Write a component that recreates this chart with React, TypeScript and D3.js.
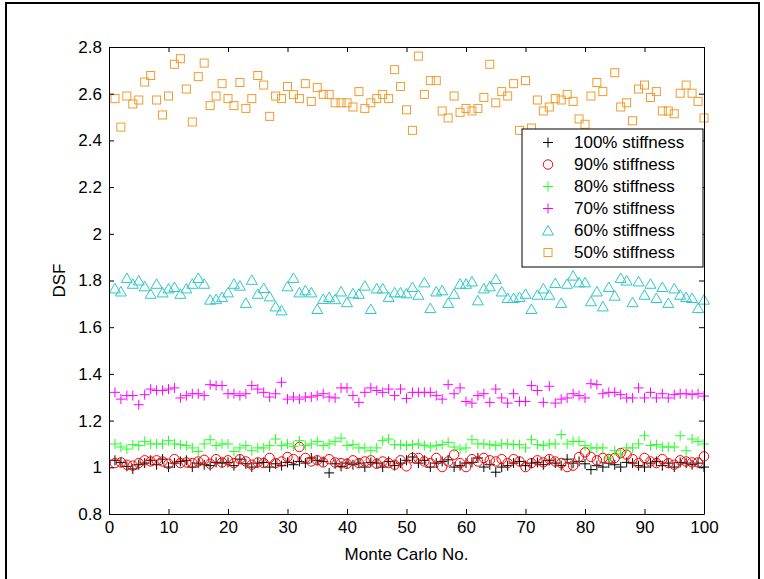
import { useEffect, useRef } from "react";
import * as d3 from "d3";

// DSF values per Monte Carlo run (runs 1..100)
const stiff100 = [
  1.03, 1.021, 1.004, 0.993, 1.011, 1.018, 1.03, 1.011, 1.035, 1.001,
  1.018, 1.025, 1.03, 1.001, 1.018, 1.011, 1.007, 1.021, 1.018, 1.021,
  1.007, 1.035, 1.015, 1.001, 1.018, 1.021, 1.001, 1.015, 1.007, 1.021,
  1.011, 1.025, 1.018, 1.04, 1.03, 1.025, 0.976, 1.015, 1.004, 1.018,
  1.011, 1.018, 1.001, 1.021, 1.018, 1.001, 1.025, 1.007, 1.018, 1.03,
  1.044, 1.018, 1.03, 1.001, 1.018, 1.025, 1.032, 1.001, 1.007, 1.018,
  1.021, 1.04, 1.001, 1.011, 0.979, 1.001, 1.007, 1.018, 1.025, 1.007,
  1.018, 1.021, 1.011, 1.03, 1.018, 1.007, 1.035, 1.018, 1.025, 1.015,
  0.99, 1.007, 1.001, 1.018, 1.011, 1.001, 1.021, 1.018, 1.007, 1.001,
  1.018, 1.025, 1.007, 1.018, 1.001, 1.021, 1.018, 1.011, 1.018, 1.001,
];
const stiff90 = [
  1.018, 1.021, 1.011, 1.007, 1.018, 1.03, 1.025, 1.03, 1.025, 1.015,
  1.035, 1.018, 1.021, 1.018, 1.025, 1.032, 1.015, 1.035, 1.021, 1.03,
  1.018, 1.035, 1.025, 1.011, 1.021, 1.018, 1.04, 1.018, 1.025, 1.044,
  1.035, 1.087, 1.04, 1.025, 1.03, 1.021, 1.035, 1.021, 1.018, 1.015,
  1.03, 1.018, 1.025, 1.03, 1.015, 1.025, 1.018, 1.011, 1.03, 1.004,
  1.04, 1.04, 1.025, 1.018, 1.04, 1.001, 1.025, 1.054, 1.018, 1.001,
  1.035, 1.025, 1.04, 1.03, 1.025, 1.035, 1.018, 1.035, 1.025, 1.001,
  1.018, 1.03, 1.021, 1.035, 1.025, 1.018, 1.001, 1.007, 1.044, 1.064,
  1.044, 1.03, 1.04, 1.035, 1.04, 1.061, 1.054, 1.035, 1.018, 1.04,
  1.025, 1.018, 1.035, 1.018, 1.011, 1.03, 1.025, 1.021, 1.021, 1.047,
];
const stiff80 = [
  1.1, 1.087, 1.078, 1.097, 1.093, 1.111, 1.1, 1.1, 1.1, 1.114,
  1.1, 1.097, 1.093, 1.083, 1.068, 1.1, 1.118, 1.093, 1.1, 1.1,
  1.068, 1.083, 1.093, 1.071, 1.083, 1.083, 1.093, 1.121, 1.093, 1.1,
  1.09, 1.114, 1.093, 1.1, 1.111, 1.093, 1.1, 1.111, 1.125, 1.093,
  1.097, 1.083, 1.083, 1.071, 1.083, 1.114, 1.121, 1.097, 1.097, 1.093,
  1.097, 1.1, 1.093, 1.087, 1.093, 1.097, 1.107, 1.087, 1.078, 1.083,
  1.118, 1.1, 1.1, 1.097, 1.093, 1.1, 1.1, 1.097, 1.097, 1.083,
  1.118, 1.097, 1.093, 1.1, 1.1, 1.14, 1.1, 1.111, 1.111, 1.093,
  1.083, 1.083, 1.083, 1.04, 1.071, 1.057, 1.083, 1.083, 1.1, 1.135,
  1.093, 1.097, 1.087, 1.087, 1.087, 1.135, 1.071, 1.121, 1.111, 1.1,
];
const stiff70 = [
  1.321, 1.292, 1.307, 1.307, 1.268, 1.311, 1.335, 1.329, 1.329, 1.335,
  1.34, 1.297, 1.307, 1.315, 1.315, 1.307, 1.354, 1.35, 1.35, 1.315,
  1.315, 1.307, 1.315, 1.35, 1.335, 1.321, 1.301, 1.315, 1.364, 1.292,
  1.301, 1.292, 1.301, 1.301, 1.307, 1.315, 1.301, 1.297, 1.34, 1.34,
  1.307, 1.278, 1.321, 1.34, 1.329, 1.321, 1.335, 1.307, 1.335, 1.295,
  1.321, 1.321, 1.321, 1.321, 1.307, 1.292, 1.354, 1.315, 1.34, 1.282,
  1.275, 1.307, 1.315, 1.278, 1.335, 1.297, 1.275, 1.315, 1.282, 1.282,
  1.35, 1.329, 1.278, 1.347, 1.275, 1.292, 1.297, 1.315, 1.307, 1.297,
  1.358, 1.354, 1.315, 1.321, 1.321, 1.311, 1.297, 1.297, 1.34, 1.297,
  1.321, 1.297, 1.315, 1.297, 1.311, 1.315, 1.315, 1.311, 1.315, 1.305,
];
const stiff60 = [
  1.766, 1.753, 1.811, 1.786, 1.8, 1.775, 1.743, 1.786, 1.749, 1.766,
  1.772, 1.743, 1.766, 1.786, 1.811, 1.786, 1.718, 1.72, 1.729, 1.749,
  1.786, 1.778, 1.704, 1.803, 1.743, 1.768, 1.732, 1.689, 1.672, 1.775,
  1.811, 1.749, 1.758, 1.749, 1.678, 1.721, 1.729, 1.72, 1.753, 1.707,
  1.745, 1.743, 1.778, 1.678, 1.766, 1.766, 1.729, 1.749, 1.749, 1.745,
  1.772, 1.739, 1.792, 1.682, 1.753, 1.758, 1.704, 1.743, 1.786, 1.786,
  1.796, 1.715, 1.766, 1.775, 1.806, 1.753, 1.725, 1.725, 1.729, 1.743,
  1.678, 1.739, 1.766, 1.739, 1.789, 1.704, 1.786, 1.821, 1.792, 1.792,
  1.711, 1.753, 1.689, 1.772, 1.735, 1.811, 1.8, 1.707, 1.796, 1.739,
  1.786, 1.725, 1.772, 1.704, 1.766, 1.739, 1.729, 1.725, 1.682, 1.718,
];
const stiff50 = [
  2.579, 2.457, 2.59, 2.556, 2.573, 2.65, 2.678, 2.573, 2.509, 2.59,
  2.726, 2.75, 2.62, 2.479, 2.673, 2.731, 2.549, 2.59, 2.643, 2.579,
  2.549, 2.648, 2.537, 2.579, 2.678, 2.637, 2.503, 2.59, 2.579, 2.631,
  2.596, 2.579, 2.643, 2.567, 2.626, 2.597, 2.597, 2.561, 2.561, 2.561,
  2.543, 2.609, 2.537, 2.561, 2.579, 2.597, 2.579, 2.703, 2.631, 2.531,
  2.443, 2.761, 2.597, 2.656, 2.656, 2.526, 2.496, 2.59, 2.52, 2.537,
  2.526, 2.537, 2.584, 2.726, 2.561, 2.609, 2.59, 2.643, 2.443, 2.656,
  2.453, 2.573, 2.526, 2.543, 2.579, 2.573, 2.597, 2.567, 2.492, 2.469,
  2.59, 2.648, 2.609, 2.42, 2.69, 2.543, 2.561, 2.484, 2.62, 2.637,
  2.584, 2.609, 2.526, 2.526, 2.514, 2.602, 2.637, 2.602, 2.567, 2.496,
];

const seriesLabels = [
  "100% stiffness",
  "90% stiffness",
  "80% stiffness",
  "70% stiffness",
  "60% stiffness",
  "50% stiffness",
];
const xTicks = [0, 10, 20, 30, 40, 50, 60, 70, 80, 90, 100];
const yTicks = [0.8, 1, 1.2, 1.4, 1.6, 1.8, 2, 2.2, 2.4, 2.6, 2.8];

const FONT = "'Liberation Sans', Arial, Helvetica, sans-serif";
const FS = 17;

const App = () => {
  const ref = useRef<SVGSVGElement>(null);

  useEffect(() => {
    const root = d3.select(ref.current);
    root.selectAll("*").remove();

    const H = 579;
    const margin = { left: 109, top: 47 };
    const iw = 704 - margin.left;
    const ih = 514 - margin.top;

    // outer figure frame
    root
      .append("rect")
      .attr("x", 6)
      .attr("y", 3)
      .attr("width", 753)
      .attr("height", H + 10)
      .attr("fill", "#fff")
      .attr("stroke", "#000")
      .attr("stroke-width", 2);

    const svg = root
      .append("g")
      .attr("transform", `translate(${margin.left},${margin.top})`);

    const x = d3.scaleLinear().domain([0, 100]).range([0, iw]);
    const y = d3.scaleLinear().domain([0.8, 2.8]).range([ih, 0]);
    const runs = d3.range(1, 101);

    const series = [
      { values: stiff100, color: "#000000", marker: "plus" },
      { values: stiff90, color: "#ff0000", marker: "circle" },
      { values: stiff80, color: "#22ff22", marker: "plus" },
      { values: stiff70, color: "#ff00ff", marker: "plus" },
      { values: stiff60, color: "#2ec8c8", marker: "triangle" },
      { values: stiff50, color: "#f29b2c", marker: "square" },
    ];

    const drawMarker = (g, kind, cx, cy, color) => {
      if (kind === "plus") {
        g.append("path")
          .attr("d", `M${cx - 5},${cy}h10M${cx},${cy - 5}v10`)
          .attr("stroke", color)
          .attr("stroke-width", 1)
          .attr("fill", "none");
      } else if (kind === "circle") {
        g.append("circle")
          .attr("cx", cx)
          .attr("cy", cy)
          .attr("r", 4.7)
          .attr("stroke", color)
          .attr("stroke-width", 1)
          .attr("fill", "none");
      } else if (kind === "triangle") {
        g.append("path")
          .attr("d", `M${cx},${cy - 5}L${cx + 5.5},${cy + 4.5}L${cx - 5.5},${cy + 4.5}Z`)
          .attr("stroke", color)
          .attr("stroke-width", 1)
          .attr("fill", "none");
      } else {
        g.append("rect")
          .attr("x", cx - 4)
          .attr("y", cy - 4)
          .attr("width", 8)
          .attr("height", 8)
          .attr("stroke", color)
          .attr("stroke-width", 1)
          .attr("fill", "none");
      }
    };

    svg.append("rect").attr("width", iw).attr("height", ih).attr("fill", "#fff");

    const plot = svg.append("g");
    series.forEach((s) => {
      const g = plot.append("g");
      runs.forEach((r, i) => drawMarker(g, s.marker, x(r), y(s.values[i]), s.color));
    });

    const styleAxis = (g) => {
      g.selectAll("path,line").attr("stroke", "#000").attr("stroke-width", 1);
      g.selectAll("text")
        .attr("font-family", FONT)
        .attr("font-size", FS)
        .attr("fill", "#000");
    };

    svg
      .append("g")
      .attr("transform", `translate(0,${ih})`)
      .call(
        d3.axisBottom(x).tickValues(xTicks).tickSizeInner(-5).tickSizeOuter(0).tickPadding(7)
      )
      .call(styleAxis);
    svg
      .append("g")
      .call(d3.axisTop(x).tickValues(xTicks).tickFormat(() => "").tickSizeInner(-5).tickSizeOuter(0))
      .call(styleAxis);
    svg
      .append("g")
      .call(
        d3
          .axisLeft(y)
          .tickValues(yTicks)
          .tickFormat((d) => String(+(+d).toFixed(1)))
          .tickSizeInner(-5)
          .tickSizeOuter(0)
          .tickPadding(7)
      )
      .call(styleAxis);
    svg
      .append("g")
      .attr("transform", `translate(${iw},0)`)
      .call(d3.axisRight(y).tickValues(yTicks).tickFormat(() => "").tickSizeInner(-5).tickSizeOuter(0))
      .call(styleAxis);

    // axis labels
    svg
      .append("text")
      .attr("x", iw / 2)
      .attr("y", ih + 46)
      .attr("text-anchor", "middle")
      .attr("font-family", FONT)
      .attr("font-size", FS)
      .text("Monte Carlo No.");
    svg
      .append("text")
      .attr("transform", `translate(${-44},${ih / 2}) rotate(-90)`)
      .attr("text-anchor", "middle")
      .attr("font-family", FONT)
      .attr("font-size", FS)
      .text("DSF");

    // legend
    const lg = root.append("g").attr("transform", "translate(522,129)");
    lg.append("rect")
      .attr("width", 181)
      .attr("height", 138)
      .attr("fill", "#fff")
      .attr("stroke", "#000")
      .attr("stroke-width", 1);
    series.forEach((s, i) => {
      const cy = 13.5 + i * 22;
      drawMarker(lg, s.marker, 26, cy, s.color);
      lg.append("text")
        .attr("x", 52)
        .attr("y", cy)
        .attr("dy", "0.35em")
        .attr("font-family", FONT)
        .attr("font-size", FS)
        .text(seriesLabels[i]);
    });
  }, []);

  return (
    <svg
      ref={ref}
      width={764}
      height={579}
      style={{ position: "absolute", left: 0, top: 0 }}
    ></svg>
  );
};

export default App;
